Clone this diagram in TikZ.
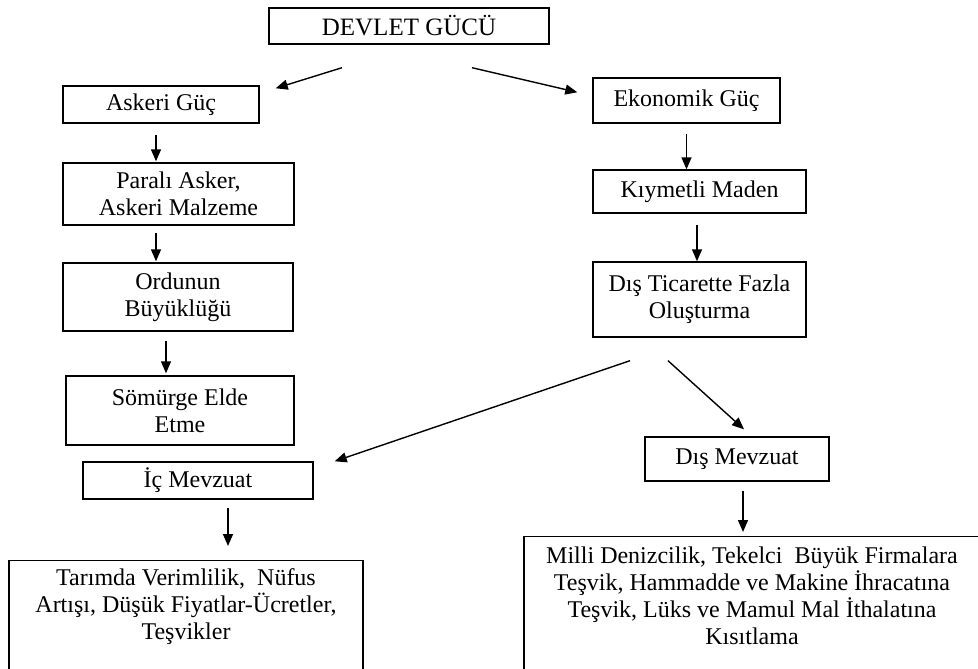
\documentclass[tikz,border=0pt]{standalone}
\usepackage{fontspec}
\setmainfont{Liberation Serif}
\usetikzlibrary{arrows.meta}
\begin{document}
\begin{tikzpicture}[x=1pt,y=-1pt,
  box/.style={draw=black, line width=1.4pt, inner sep=0pt, align=center,
    font=\fontsize{24}{27}\selectfont},
  arr/.style={line width=1.4pt, -{Triangle[length=12pt,width=10pt]}}]
\useasboundingbox (0,0) rectangle (978,669);

% top node
\node[box, minimum width=280, minimum height=36, font=\fontsize{25}{27}\selectfont] (dev) at (409,26) {DEVLET GÜCÜ};

% military branch
\node[box, minimum width=196, minimum height=37] (askeri) at (161,104.5) {Askeri Güç};
\node[box, minimum width=231, minimum height=62] (parali) at (178.5,194) {Paralı Asker,\\Askeri Malzeme};
\node[box, minimum width=230, minimum height=68] (ordu) at (178,297) {Ordunun\\Büyüklüğü};
\node[box, minimum width=228, minimum height=69] (somurge) at (180,410.5) {Sömürge Elde\\Etme};

% economic branch
\node[box, minimum width=187, minimum height=45] (ekon) at (686.5,100.5) {Ekonomik Güç};
\node[box, minimum width=213, minimum height=43] (kiymet) at (699.5,191.5) {Kıymetli Maden};
\node[box, minimum width=213, minimum height=75] (ticaret) at (699.5,299.5) {Dış Ticarette Fazla\\Oluşturma};

% legislation
\node[box, minimum width=230, minimum height=37] (ic) at (198,480.5) {İç Mevzuat};
\node[box, minimum width=184, minimum height=44] (dism) at (737,459) {Dış Mevzuat};

% open-ended bottom boxes
\node[box, anchor=north, minimum width=354, inner ysep=8pt, text depth=110pt] (tarim) at (186,560)
  {Tarımda Verimlilik,\ \ Nüfus\\Artışı, Düşük Fiyatlar-Ücretler,\\Teşvikler};
\node[box, anchor=north, minimum width=456, inner ysep=10.5pt, text depth=80pt] (milli) at (752,536)
  {Milli Denizcilik, Tekelci\ \ Büyük Firmalara\\Teşvik, Hammadde ve Makine İhracatına\\Teşvik, Lüks ve Mamul Mal İthalatına\\Kısıtlama};

% connectors
\draw[arr] ([xshift=-67pt,yshift=-23pt]dev.south) -- ([xshift=16pt,yshift=-3pt]askeri.north east);
\draw[arr] ([xshift=63pt,yshift=-23pt]dev.south) -- ([xshift=-15pt,yshift=-15pt]ekon.north west);
\draw[arr] ([xshift=-5pt,yshift=-11pt]askeri.south) -- ([xshift=-22.5pt,yshift=1pt]parali.north);
\draw[arr] ([xshift=-22.5pt,yshift=-7pt]parali.south) -- ([xshift=-22pt,yshift=1pt]ordu.north);
\draw[arr] ([xshift=-12pt,yshift=-9pt]ordu.south) -- ([xshift=-14pt,yshift=2pt]somurge.north);
\draw[arr] ([yshift=-10pt]ekon.south) -- ([xshift=-13pt]kiymet.north);
\draw[arr] ([xshift=-2.5pt,yshift=-11pt]kiymet.south) -- ([xshift=-2.5pt]ticaret.north);
\draw[arr] ([xshift=-69.5pt,yshift=-23pt]ticaret.south) -- ([xshift=21pt]ic.north east);
\draw[arr] ([xshift=-31.5pt,yshift=-23pt]ticaret.south) -- ([xshift=7pt,yshift=7pt]dism.north);
\draw[arr] ([xshift=30pt,yshift=-8pt]ic.south) -- ([xshift=42pt,yshift=14pt]tarim.north);
\draw[arr] ([xshift=6pt,yshift=-9pt]dism.south) -- ([xshift=-9pt,yshift=4pt]milli.north);
\end{tikzpicture}
\end{document}
